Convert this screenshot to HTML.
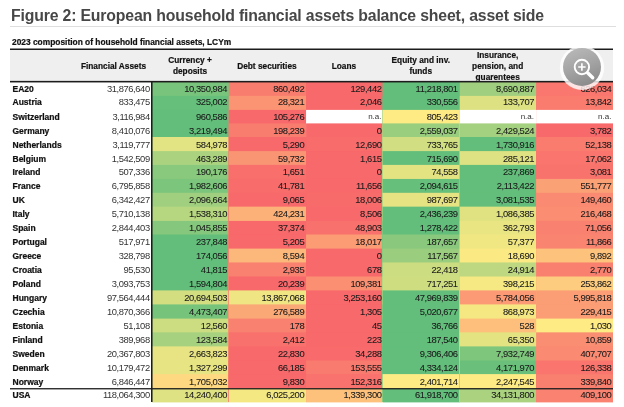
<!DOCTYPE html>
<html><head><meta charset="utf-8"><title>Figure 2</title>
<style>
html,body{margin:0;padding:0;background:#fff;}
body{width:624px;height:407px;position:relative;overflow:hidden;will-change:transform;font-family:"Liberation Sans",sans-serif;color:#111;}
.a{position:absolute;}
.title{left:11px;top:6.6px;font-size:15.8px;font-weight:bold;color:#474747;white-space:nowrap;letter-spacing:-0.16px;line-height:18px;}
.sub{left:12px;top:37.3px;font-size:8.4px;-webkit-text-stroke:0.2px #111;font-weight:bold;white-space:nowrap;line-height:10px;color:#111;}
.h{-webkit-text-stroke:0.2px #111;font-size:8.3px;font-weight:bold;text-align:center;line-height:11.15px;color:#111;display:flex;align-items:center;justify-content:center;}
.c{font-size:9.4px;letter-spacing:-0.42px;line-height:15.6px;height:13.95px;text-align:right;white-space:nowrap;box-sizing:border-box;padding-right:1.6px;color:#1a1a1a;-webkit-text-stroke:0.08px #1a1a1a;}
.u{line-height:13.6px;}
.na{font-size:8px;letter-spacing:0;color:#333;line-height:16.8px;-webkit-text-stroke:0;}
.n{-webkit-text-stroke:0.22px #111;font-size:8.5px;font-weight:bold;line-height:15.5px;height:13.95px;white-space:nowrap;color:#111;}
</style></head><body>
<div class="a title">Figure 2: European household financial assets balance sheet, asset side</div>
<div class="a" style="left:10px;top:26px;width:606px;height:1px;background:#dedede"></div>
<div class="a sub">2023 composition of household financial assets, LCYm</div>
<div class="a" style="left:10.3px;top:50px;width:602.7px;height:31px;background:#efefef"></div>
<div class="a" style="left:10.3px;top:48px;width:602.7px;height:1px;background:rgba(28,28,28,0.5)"></div>
<div class="a" style="left:10.3px;top:49px;width:602.7px;height:1px;background:#1c1c1c"></div>
<div class="a h" style="left:76px;top:51.2px;width:75px;height:30.5px">Financial Assets</div>
<div class="a h" style="left:152px;top:51.0px;width:76.0px;height:30.5px">Currency +<br>deposits</div>
<div class="a h" style="left:228px;top:51.2px;width:77.8px;height:30.5px">Debt securities</div>
<div class="a h" style="left:305.8px;top:51.2px;width:76.2px;height:30.5px">Loans</div>
<div class="a h" style="left:382px;top:51.0px;width:77.5px;height:30.5px">Equity and inv.<br>funds</div>
<div class="a h" style="left:459.5px;top:51.2px;width:76.3px;height:30.5px">Insurance,<br>pension, and<br>guarentees</div>
<svg class="a" style="left:0;top:0" width="613" height="402" viewBox="0 0 613 402"><rect x="152.0" y="81.0" width="461.10" height="321.20" fill="#78c47c"/><rect x="152.0" y="95.9" width="461.10" height="306.30" fill="#66bf7b"/><rect x="152.0" y="109.9" width="461.10" height="292.30" fill="#63be7b"/><rect x="152.0" y="123.4" width="461.10" height="278.80" fill="#63be7b"/><rect x="152.0" y="137.0" width="461.10" height="265.20" fill="#e2e382"/><rect x="152.0" y="151.1" width="461.10" height="251.10" fill="#abd37f"/><rect x="152.0" y="164.9" width="461.10" height="237.30" fill="#88c97d"/><rect x="152.0" y="178.95" width="461.10" height="223.25" fill="#7bc57c"/><rect x="152.0" y="192.8" width="461.10" height="209.40" fill="#a0d07f"/><rect x="152.0" y="206.65" width="461.10" height="195.55" fill="#b6d680"/><rect x="152.0" y="220.9" width="461.10" height="181.30" fill="#85c87d"/><rect x="152.0" y="234.5" width="461.10" height="167.70" fill="#63be7b"/><rect x="152.0" y="248.6" width="461.10" height="153.60" fill="#63be7b"/><rect x="152.0" y="262.45" width="461.10" height="139.75" fill="#63be7b"/><rect x="152.0" y="276.5" width="461.10" height="125.70" fill="#63be7b"/><rect x="152.0" y="290.4" width="461.10" height="111.80" fill="#d3de81"/><rect x="152.0" y="304.4" width="461.10" height="97.80" fill="#76c47c"/><rect x="152.0" y="318.6" width="461.10" height="83.60" fill="#ccdc81"/><rect x="152.0" y="332.35" width="461.10" height="69.85" fill="#a6d17f"/><rect x="152.0" y="346.4" width="461.10" height="55.80" fill="#e8e483"/><rect x="152.0" y="360.5" width="461.10" height="41.70" fill="#e6e483"/><rect x="152.0" y="374.1" width="461.10" height="28.10" fill="#fed981"/><rect x="152.0" y="388.4" width="461.10" height="13.80" fill="#dfe282"/><rect x="228.8" y="81.0" width="384.30" height="321.20" fill="#f97d6f"/><rect x="228.8" y="95.9" width="384.30" height="306.30" fill="#fa9473"/><rect x="228.8" y="109.9" width="384.30" height="292.30" fill="#f8696b"/><rect x="228.8" y="123.4" width="384.30" height="278.80" fill="#f97d6f"/><rect x="228.8" y="137.0" width="384.30" height="265.20" fill="#f8696b"/><rect x="228.8" y="151.1" width="384.30" height="251.10" fill="#fa9574"/><rect x="228.8" y="164.9" width="384.30" height="237.30" fill="#f86f6c"/><rect x="228.8" y="178.95" width="384.30" height="223.25" fill="#f86c6c"/><rect x="228.8" y="192.8" width="384.30" height="209.40" fill="#f8696b"/><rect x="228.8" y="206.65" width="384.30" height="195.55" fill="#fcb179"/><rect x="228.8" y="220.9" width="384.30" height="181.30" fill="#f8696b"/><rect x="228.8" y="234.5" width="384.30" height="167.70" fill="#f8696b"/><rect x="228.8" y="248.6" width="384.30" height="153.60" fill="#fcb77a"/><rect x="228.8" y="262.45" width="384.30" height="139.75" fill="#f98170"/><rect x="228.8" y="276.5" width="384.30" height="125.70" fill="#f8696b"/><rect x="228.8" y="290.4" width="384.30" height="111.80" fill="#efe683"/><rect x="228.8" y="304.4" width="384.30" height="97.80" fill="#fba877"/><rect x="228.8" y="318.6" width="384.30" height="83.60" fill="#f98170"/><rect x="228.8" y="332.35" width="384.30" height="69.85" fill="#f8716c"/><rect x="228.8" y="346.4" width="384.30" height="55.80" fill="#f8696b"/><rect x="228.8" y="360.5" width="384.30" height="41.70" fill="#f8696b"/><rect x="228.8" y="374.1" width="384.30" height="28.10" fill="#f8696b"/><rect x="228.8" y="388.4" width="384.30" height="13.80" fill="#f4e883"/><rect x="306.05" y="81.0" width="307.05" height="321.20" fill="#f8696b"/><rect x="306.05" y="95.9" width="307.05" height="306.30" fill="#f8696b"/><rect x="306.05" y="109.9" width="307.05" height="292.30" fill="#ffffff"/><rect x="306.05" y="123.4" width="307.05" height="278.80" fill="#f8696b"/><rect x="306.05" y="137.0" width="307.05" height="265.20" fill="#f86c6c"/><rect x="306.05" y="151.1" width="307.05" height="251.10" fill="#f8696b"/><rect x="306.05" y="164.9" width="307.05" height="237.30" fill="#f8696b"/><rect x="306.05" y="178.95" width="307.05" height="223.25" fill="#f8696b"/><rect x="306.05" y="192.8" width="307.05" height="209.40" fill="#f86b6b"/><rect x="306.05" y="206.65" width="307.05" height="195.55" fill="#f8696b"/><rect x="306.05" y="220.9" width="307.05" height="181.30" fill="#f8716d"/><rect x="306.05" y="234.5" width="307.05" height="167.70" fill="#fb9c75"/><rect x="306.05" y="248.6" width="307.05" height="153.60" fill="#f8696b"/><rect x="306.05" y="262.45" width="307.05" height="139.75" fill="#f8696b"/><rect x="306.05" y="276.5" width="307.05" height="125.70" fill="#fa8f72"/><rect x="306.05" y="290.4" width="307.05" height="111.80" fill="#f8696b"/><rect x="306.05" y="304.4" width="307.05" height="97.80" fill="#f8696b"/><rect x="306.05" y="318.6" width="307.05" height="83.60" fill="#f8696b"/><rect x="306.05" y="332.35" width="307.05" height="69.85" fill="#f8696b"/><rect x="306.05" y="346.4" width="307.05" height="55.80" fill="#f86a6b"/><rect x="306.05" y="360.5" width="307.05" height="41.70" fill="#f97a6e"/><rect x="306.05" y="374.1" width="307.05" height="28.10" fill="#f9726d"/><rect x="306.05" y="388.4" width="307.05" height="13.80" fill="#fdc17c"/><rect x="382.55" y="81.0" width="230.55" height="321.20" fill="#63be7b"/><rect x="382.55" y="95.9" width="230.55" height="306.30" fill="#63be7b"/><rect x="382.55" y="109.9" width="230.55" height="292.30" fill="#ffeb84"/><rect x="382.55" y="123.4" width="230.55" height="278.80" fill="#99ce7e"/><rect x="382.55" y="137.0" width="230.55" height="265.20" fill="#d1de81"/><rect x="382.55" y="151.1" width="230.55" height="251.10" fill="#63be7b"/><rect x="382.55" y="164.9" width="230.55" height="237.30" fill="#e3e382"/><rect x="382.55" y="178.95" width="230.55" height="223.25" fill="#66bf7b"/><rect x="382.55" y="192.8" width="230.55" height="209.40" fill="#e5e382"/><rect x="382.55" y="206.65" width="230.55" height="195.55" fill="#63be7b"/><rect x="382.55" y="220.9" width="230.55" height="181.30" fill="#63be7b"/><rect x="382.55" y="234.5" width="230.55" height="167.70" fill="#8ac97d"/><rect x="382.55" y="248.6" width="230.55" height="153.60" fill="#9ace7e"/><rect x="382.55" y="262.45" width="230.55" height="139.75" fill="#cbdc81"/><rect x="382.55" y="276.5" width="230.55" height="125.70" fill="#cfdd81"/><rect x="382.55" y="290.4" width="230.55" height="111.80" fill="#63be7b"/><rect x="382.55" y="304.4" width="230.55" height="97.80" fill="#63be7b"/><rect x="382.55" y="318.6" width="230.55" height="83.60" fill="#63be7b"/><rect x="382.55" y="332.35" width="230.55" height="69.85" fill="#63be7b"/><rect x="382.55" y="346.4" width="230.55" height="55.80" fill="#63be7b"/><rect x="382.55" y="360.5" width="230.55" height="41.70" fill="#63be7b"/><rect x="382.55" y="374.1" width="230.55" height="28.10" fill="#feeb84"/><rect x="382.55" y="388.4" width="230.55" height="13.80" fill="#63be7b"/><rect x="459.8" y="81.0" width="153.30" height="321.20" fill="#a0d07f"/><rect x="459.8" y="95.9" width="153.30" height="306.30" fill="#dee182"/><rect x="459.8" y="109.9" width="153.30" height="292.30" fill="#ffffff"/><rect x="459.8" y="123.4" width="153.30" height="278.80" fill="#a4d17f"/><rect x="459.8" y="137.0" width="153.30" height="265.20" fill="#63be7b"/><rect x="459.8" y="151.1" width="153.30" height="251.10" fill="#dfe282"/><rect x="459.8" y="164.9" width="153.30" height="237.30" fill="#63be7b"/><rect x="459.8" y="178.95" width="153.30" height="223.25" fill="#63be7b"/><rect x="459.8" y="192.8" width="153.30" height="209.40" fill="#63be7b"/><rect x="459.8" y="206.65" width="153.30" height="195.55" fill="#e0e282"/><rect x="459.8" y="220.9" width="153.30" height="181.30" fill="#eae583"/><rect x="459.8" y="234.5" width="153.30" height="167.70" fill="#f0e783"/><rect x="459.8" y="248.6" width="153.30" height="153.60" fill="#fbea84"/><rect x="459.8" y="262.45" width="153.30" height="139.75" fill="#bdd880"/><rect x="459.8" y="276.5" width="153.30" height="125.70" fill="#f6e883"/><rect x="459.8" y="290.4" width="153.30" height="111.80" fill="#fb9a74"/><rect x="459.8" y="304.4" width="153.30" height="97.80" fill="#f5e883"/><rect x="459.8" y="318.6" width="153.30" height="83.60" fill="#fdbf7b"/><rect x="459.8" y="332.35" width="153.30" height="69.85" fill="#e3e382"/><rect x="459.8" y="346.4" width="153.30" height="55.80" fill="#7fc67d"/><rect x="459.8" y="360.5" width="153.30" height="41.70" fill="#6ac07b"/><rect x="459.8" y="374.1" width="153.30" height="28.10" fill="#feeb84"/><rect x="459.8" y="388.4" width="153.30" height="13.80" fill="#abd37f"/><rect x="536.1" y="81.0" width="77.00" height="321.20" fill="#f9776e"/><rect x="536.1" y="95.9" width="77.00" height="306.30" fill="#f97c6f"/><rect x="536.1" y="109.9" width="77.00" height="292.30" fill="#ffffff"/><rect x="536.1" y="123.4" width="77.00" height="278.80" fill="#f8696b"/><rect x="536.1" y="137.0" width="77.00" height="265.20" fill="#f97c6f"/><rect x="536.1" y="151.1" width="77.00" height="251.10" fill="#f9756d"/><rect x="536.1" y="164.9" width="77.00" height="237.30" fill="#f9736d"/><rect x="536.1" y="178.95" width="77.00" height="223.25" fill="#fba176"/><rect x="536.1" y="192.8" width="77.00" height="209.40" fill="#fa8a71"/><rect x="536.1" y="206.65" width="77.00" height="195.55" fill="#fa8d72"/><rect x="536.1" y="220.9" width="77.00" height="181.30" fill="#f98170"/><rect x="536.1" y="234.5" width="77.00" height="167.70" fill="#f98470"/><rect x="536.1" y="248.6" width="77.00" height="153.60" fill="#fdc37c"/><rect x="536.1" y="262.45" width="77.00" height="139.75" fill="#f9806f"/><rect x="536.1" y="276.5" width="77.00" height="125.70" fill="#fdcc7e"/><rect x="536.1" y="290.4" width="77.00" height="111.80" fill="#fb9e75"/><rect x="536.1" y="304.4" width="77.00" height="97.80" fill="#fb9d75"/><rect x="536.1" y="318.6" width="77.00" height="83.60" fill="#feeb84"/><rect x="536.1" y="332.35" width="77.00" height="69.85" fill="#fa8e72"/><rect x="536.1" y="346.4" width="77.00" height="55.80" fill="#fa8a71"/><rect x="536.1" y="360.5" width="77.00" height="41.70" fill="#f9756d"/><rect x="536.1" y="374.1" width="77.00" height="28.10" fill="#f97f6f"/><rect x="536.1" y="388.4" width="77.00" height="13.80" fill="#f98370"/></svg>
<div class="a n" style="left:12.5px;top:82px">EA20</div><div class="a c u" style="left:76px;top:82px;width:75.3px;padding-right:1.6px;color:#333;-webkit-text-stroke:0">31,876,640</div><div class="a c u" style="left:152px;top:82px;height:13px;width:76.0px;padding-right:1.0px">10,350,984</div><div class="a c u" style="left:228px;top:82px;height:13px;width:77.8px;padding-right:1.6px">860,492</div><div class="a c u" style="left:305.8px;top:82px;height:13px;width:76.2px;padding-right:0.5px">129,442</div><div class="a c u" style="left:382px;top:82px;height:13px;width:77.5px;padding-right:1.9px">11,218,801</div><div class="a c u" style="left:459.5px;top:82px;height:13px;width:76.3px;padding-right:1.8px">8,690,887</div><div class="a c u" style="left:535.8px;top:82px;height:13px;width:77.2px;padding-right:1.6px">626,034</div>
<div class="a n" style="left:12.5px;top:95px">Austria</div><div class="a c u" style="left:76px;top:95px;width:75.3px;padding-right:1.6px;color:#333;-webkit-text-stroke:0">833,475</div><div class="a c u" style="left:152px;top:95px;height:14px;width:76.0px;padding-right:1.0px">325,002</div><div class="a c u" style="left:228px;top:95px;height:14px;width:77.8px;padding-right:1.6px">28,321</div><div class="a c u" style="left:305.8px;top:95px;height:14px;width:76.2px;padding-right:0.5px">2,046</div><div class="a c u" style="left:382px;top:95px;height:14px;width:77.5px;padding-right:1.9px">330,556</div><div class="a c u" style="left:459.5px;top:95px;height:14px;width:76.3px;padding-right:1.8px">133,707</div><div class="a c u" style="left:535.8px;top:95px;height:14px;width:77.2px;padding-right:1.6px">13,842</div>
<div class="a n" style="left:12.5px;top:110px">Switzerland</div><div class="a c" style="left:76px;top:109px;width:75.3px;padding-right:1.6px;color:#333;-webkit-text-stroke:0">3,116,984</div><div class="a c" style="left:152px;top:109px;height:14px;width:76.0px;padding-right:1.0px">960,586</div><div class="a c" style="left:228px;top:109px;height:14px;width:77.8px;padding-right:1.6px">105,276</div><div class="a c na" style="left:305.8px;top:109px;height:14px;width:76.2px;padding-right:0.5px">n.a.</div><div class="a c" style="left:382px;top:109px;height:14px;width:77.5px;padding-right:1.9px">805,423</div><div class="a c na" style="left:459.5px;top:109px;height:14px;width:76.3px;padding-right:1.8px">n.a.</div><div class="a c na" style="left:535.8px;top:109px;height:14px;width:77.2px;padding-right:1.6px">n.a.</div>
<div class="a n" style="left:12.5px;top:124px">Germany</div><div class="a c" style="left:76px;top:123px;width:75.3px;padding-right:1.6px;color:#333;-webkit-text-stroke:0">8,410,076</div><div class="a c" style="left:152px;top:123px;height:14px;width:76.0px;padding-right:1.0px">3,219,494</div><div class="a c" style="left:228px;top:123px;height:14px;width:77.8px;padding-right:1.6px">198,239</div><div class="a c" style="left:305.8px;top:123px;height:14px;width:76.2px;padding-right:0.5px">0</div><div class="a c" style="left:382px;top:123px;height:14px;width:77.5px;padding-right:1.9px">2,559,037</div><div class="a c" style="left:459.5px;top:123px;height:14px;width:76.3px;padding-right:1.8px">2,429,524</div><div class="a c" style="left:535.8px;top:123px;height:14px;width:77.2px;padding-right:1.6px">3,782</div>
<div class="a n" style="left:12.5px;top:138px">Netherlands</div><div class="a c" style="left:76px;top:137px;width:75.3px;padding-right:1.6px;color:#333;-webkit-text-stroke:0">3,119,777</div><div class="a c" style="left:152px;top:137px;height:14px;width:76.0px;padding-right:1.0px">584,978</div><div class="a c" style="left:228px;top:137px;height:14px;width:77.8px;padding-right:1.6px">5,290</div><div class="a c" style="left:305.8px;top:137px;height:14px;width:76.2px;padding-right:0.5px">12,690</div><div class="a c" style="left:382px;top:137px;height:14px;width:77.5px;padding-right:1.9px">733,765</div><div class="a c" style="left:459.5px;top:137px;height:14px;width:76.3px;padding-right:1.8px">1,730,916</div><div class="a c" style="left:535.8px;top:137px;height:14px;width:77.2px;padding-right:1.6px">52,138</div>
<div class="a n" style="left:12.5px;top:152px">Belgium</div><div class="a c" style="left:76px;top:151px;width:75.3px;padding-right:1.6px;color:#333;-webkit-text-stroke:0">1,542,509</div><div class="a c" style="left:152px;top:151px;height:14px;width:76.0px;padding-right:1.0px">463,289</div><div class="a c" style="left:228px;top:151px;height:14px;width:77.8px;padding-right:1.6px">59,732</div><div class="a c" style="left:305.8px;top:151px;height:14px;width:76.2px;padding-right:0.5px">1,615</div><div class="a c" style="left:382px;top:151px;height:14px;width:77.5px;padding-right:1.9px">715,690</div><div class="a c" style="left:459.5px;top:151px;height:14px;width:76.3px;padding-right:1.8px">285,121</div><div class="a c" style="left:535.8px;top:151px;height:14px;width:77.2px;padding-right:1.6px">17,062</div>
<div class="a n" style="left:12.5px;top:165px">Ireland</div><div class="a c u" style="left:76px;top:165px;width:75.3px;padding-right:1.6px;color:#333;-webkit-text-stroke:0">507,336</div><div class="a c u" style="left:152px;top:165px;height:14px;width:76.0px;padding-right:1.0px">190,176</div><div class="a c u" style="left:228px;top:165px;height:14px;width:77.8px;padding-right:1.6px">1,651</div><div class="a c u" style="left:305.8px;top:165px;height:14px;width:76.2px;padding-right:0.5px">0</div><div class="a c u" style="left:382px;top:165px;height:14px;width:77.5px;padding-right:1.9px">74,558</div><div class="a c u" style="left:459.5px;top:165px;height:14px;width:76.3px;padding-right:1.8px">237,869</div><div class="a c u" style="left:535.8px;top:165px;height:14px;width:77.2px;padding-right:1.6px">3,081</div>
<div class="a n" style="left:12.5px;top:179px">France</div><div class="a c u" style="left:76px;top:179px;width:75.3px;padding-right:1.6px;color:#333;-webkit-text-stroke:0">6,795,858</div><div class="a c u" style="left:152px;top:179px;height:14px;width:76.0px;padding-right:1.0px">1,982,606</div><div class="a c u" style="left:228px;top:179px;height:14px;width:77.8px;padding-right:1.6px">41,781</div><div class="a c u" style="left:305.8px;top:179px;height:14px;width:76.2px;padding-right:0.5px">11,656</div><div class="a c u" style="left:382px;top:179px;height:14px;width:77.5px;padding-right:1.9px">2,094,615</div><div class="a c u" style="left:459.5px;top:179px;height:14px;width:76.3px;padding-right:1.8px">2,113,422</div><div class="a c u" style="left:535.8px;top:179px;height:14px;width:77.2px;padding-right:1.6px">551,777</div>
<div class="a n" style="left:12.5px;top:193px">UK</div><div class="a c u" style="left:76px;top:193px;width:75.3px;padding-right:1.6px;color:#333;-webkit-text-stroke:0">6,342,427</div><div class="a c u" style="left:152px;top:193px;height:14px;width:76.0px;padding-right:1.0px">2,096,664</div><div class="a c u" style="left:228px;top:193px;height:14px;width:77.8px;padding-right:1.6px">9,065</div><div class="a c u" style="left:305.8px;top:193px;height:14px;width:76.2px;padding-right:0.5px">18,006</div><div class="a c u" style="left:382px;top:193px;height:14px;width:77.5px;padding-right:1.9px">987,697</div><div class="a c u" style="left:459.5px;top:193px;height:14px;width:76.3px;padding-right:1.8px">3,081,535</div><div class="a c u" style="left:535.8px;top:193px;height:14px;width:77.2px;padding-right:1.6px">149,460</div>
<div class="a n" style="left:12.5px;top:207px">Italy</div><div class="a c u" style="left:76px;top:207px;width:75.3px;padding-right:1.6px;color:#333;-webkit-text-stroke:0">5,710,138</div><div class="a c u" style="left:152px;top:207px;height:14px;width:76.0px;padding-right:1.0px">1,538,310</div><div class="a c u" style="left:228px;top:207px;height:14px;width:77.8px;padding-right:1.6px">424,231</div><div class="a c u" style="left:305.8px;top:207px;height:14px;width:76.2px;padding-right:0.5px">8,506</div><div class="a c u" style="left:382px;top:207px;height:14px;width:77.5px;padding-right:1.9px">2,436,239</div><div class="a c u" style="left:459.5px;top:207px;height:14px;width:76.3px;padding-right:1.8px">1,086,385</div><div class="a c u" style="left:535.8px;top:207px;height:14px;width:77.2px;padding-right:1.6px">216,468</div>
<div class="a n" style="left:12.5px;top:221px">Spain</div><div class="a c u" style="left:76px;top:221px;width:75.3px;padding-right:1.6px;color:#333;-webkit-text-stroke:0">2,844,403</div><div class="a c u" style="left:152px;top:221px;height:14px;width:76.0px;padding-right:1.0px">1,045,855</div><div class="a c u" style="left:228px;top:221px;height:14px;width:77.8px;padding-right:1.6px">37,374</div><div class="a c u" style="left:305.8px;top:221px;height:14px;width:76.2px;padding-right:0.5px">48,903</div><div class="a c u" style="left:382px;top:221px;height:14px;width:77.5px;padding-right:1.9px">1,278,422</div><div class="a c u" style="left:459.5px;top:221px;height:14px;width:76.3px;padding-right:1.8px">362,793</div><div class="a c u" style="left:535.8px;top:221px;height:14px;width:77.2px;padding-right:1.6px">71,056</div>
<div class="a n" style="left:12.5px;top:235px">Portugal</div><div class="a c u" style="left:76px;top:235px;width:75.3px;padding-right:1.6px;color:#333;-webkit-text-stroke:0">517,971</div><div class="a c u" style="left:152px;top:235px;height:14px;width:76.0px;padding-right:1.0px">237,848</div><div class="a c u" style="left:228px;top:235px;height:14px;width:77.8px;padding-right:1.6px">5,205</div><div class="a c u" style="left:305.8px;top:235px;height:14px;width:76.2px;padding-right:0.5px">18,017</div><div class="a c u" style="left:382px;top:235px;height:14px;width:77.5px;padding-right:1.9px">187,657</div><div class="a c u" style="left:459.5px;top:235px;height:14px;width:76.3px;padding-right:1.8px">57,377</div><div class="a c u" style="left:535.8px;top:235px;height:14px;width:77.2px;padding-right:1.6px">11,866</div>
<div class="a n" style="left:12.5px;top:249px">Greece</div><div class="a c u" style="left:76px;top:249px;width:75.3px;padding-right:1.6px;color:#333;-webkit-text-stroke:0">328,798</div><div class="a c u" style="left:152px;top:249px;height:14px;width:76.0px;padding-right:1.0px">174,056</div><div class="a c u" style="left:228px;top:249px;height:14px;width:77.8px;padding-right:1.6px">8,594</div><div class="a c u" style="left:305.8px;top:249px;height:14px;width:76.2px;padding-right:0.5px">0</div><div class="a c u" style="left:382px;top:249px;height:14px;width:77.5px;padding-right:1.9px">117,567</div><div class="a c u" style="left:459.5px;top:249px;height:14px;width:76.3px;padding-right:1.8px">18,690</div><div class="a c u" style="left:535.8px;top:249px;height:14px;width:77.2px;padding-right:1.6px">9,892</div>
<div class="a n" style="left:12.5px;top:263px">Croatia</div><div class="a c u" style="left:76px;top:263px;width:75.3px;padding-right:1.6px;color:#333;-webkit-text-stroke:0">95,530</div><div class="a c u" style="left:152px;top:263px;height:14px;width:76.0px;padding-right:1.0px">41,815</div><div class="a c u" style="left:228px;top:263px;height:14px;width:77.8px;padding-right:1.6px">2,935</div><div class="a c u" style="left:305.8px;top:263px;height:14px;width:76.2px;padding-right:0.5px">678</div><div class="a c u" style="left:382px;top:263px;height:14px;width:77.5px;padding-right:1.9px">22,418</div><div class="a c u" style="left:459.5px;top:263px;height:14px;width:76.3px;padding-right:1.8px">24,914</div><div class="a c u" style="left:535.8px;top:263px;height:14px;width:77.2px;padding-right:1.6px">2,770</div>
<div class="a n" style="left:12.5px;top:277px">Poland</div><div class="a c u" style="left:76px;top:277px;width:75.3px;padding-right:1.6px;color:#333;-webkit-text-stroke:0">3,093,753</div><div class="a c u" style="left:152px;top:277px;height:14px;width:76.0px;padding-right:1.0px">1,594,804</div><div class="a c u" style="left:228px;top:277px;height:14px;width:77.8px;padding-right:1.6px">20,239</div><div class="a c u" style="left:305.8px;top:277px;height:14px;width:76.2px;padding-right:0.5px">109,381</div><div class="a c u" style="left:382px;top:277px;height:14px;width:77.5px;padding-right:1.9px">717,251</div><div class="a c u" style="left:459.5px;top:277px;height:14px;width:76.3px;padding-right:1.8px">398,215</div><div class="a c u" style="left:535.8px;top:277px;height:14px;width:77.2px;padding-right:1.6px">253,862</div>
<div class="a n" style="left:12.5px;top:291px">Hungary</div><div class="a c u" style="left:76px;top:291px;width:75.3px;padding-right:1.6px;color:#333;-webkit-text-stroke:0">97,564,444</div><div class="a c u" style="left:152px;top:291px;height:14px;width:76.0px;padding-right:1.0px">20,694,503</div><div class="a c u" style="left:228px;top:291px;height:14px;width:77.8px;padding-right:1.6px">13,867,068</div><div class="a c u" style="left:305.8px;top:291px;height:14px;width:76.2px;padding-right:0.5px">3,253,160</div><div class="a c u" style="left:382px;top:291px;height:14px;width:77.5px;padding-right:1.9px">47,969,839</div><div class="a c u" style="left:459.5px;top:291px;height:14px;width:76.3px;padding-right:1.8px">5,784,056</div><div class="a c u" style="left:535.8px;top:291px;height:14px;width:77.2px;padding-right:1.6px">5,995,818</div>
<div class="a n" style="left:12.5px;top:305px">Czechia</div><div class="a c u" style="left:76px;top:305px;width:75.3px;padding-right:1.6px;color:#333;-webkit-text-stroke:0">10,870,366</div><div class="a c u" style="left:152px;top:305px;height:14px;width:76.0px;padding-right:1.0px">4,473,407</div><div class="a c u" style="left:228px;top:305px;height:14px;width:77.8px;padding-right:1.6px">276,589</div><div class="a c u" style="left:305.8px;top:305px;height:14px;width:76.2px;padding-right:0.5px">1,305</div><div class="a c u" style="left:382px;top:305px;height:14px;width:77.5px;padding-right:1.9px">5,020,677</div><div class="a c u" style="left:459.5px;top:305px;height:14px;width:76.3px;padding-right:1.8px">868,973</div><div class="a c u" style="left:535.8px;top:305px;height:14px;width:77.2px;padding-right:1.6px">229,415</div>
<div class="a n" style="left:12.5px;top:319px">Estonia</div><div class="a c u" style="left:76px;top:319px;width:75.3px;padding-right:1.6px;color:#333;-webkit-text-stroke:0">51,108</div><div class="a c u" style="left:152px;top:319px;height:14px;width:76.0px;padding-right:1.0px">12,560</div><div class="a c u" style="left:228px;top:319px;height:14px;width:77.8px;padding-right:1.6px">178</div><div class="a c u" style="left:305.8px;top:319px;height:14px;width:76.2px;padding-right:0.5px">45</div><div class="a c u" style="left:382px;top:319px;height:14px;width:77.5px;padding-right:1.9px">36,766</div><div class="a c u" style="left:459.5px;top:319px;height:14px;width:76.3px;padding-right:1.8px">528</div><div class="a c u" style="left:535.8px;top:319px;height:14px;width:77.2px;padding-right:1.6px">1,030</div>
<div class="a n" style="left:12.5px;top:333px">Finland</div><div class="a c u" style="left:76px;top:333px;width:75.3px;padding-right:1.6px;color:#333;-webkit-text-stroke:0">389,968</div><div class="a c u" style="left:152px;top:333px;height:14px;width:76.0px;padding-right:1.0px">123,584</div><div class="a c u" style="left:228px;top:333px;height:14px;width:77.8px;padding-right:1.6px">2,412</div><div class="a c u" style="left:305.8px;top:333px;height:14px;width:76.2px;padding-right:0.5px">223</div><div class="a c u" style="left:382px;top:333px;height:14px;width:77.5px;padding-right:1.9px">187,540</div><div class="a c u" style="left:459.5px;top:333px;height:14px;width:76.3px;padding-right:1.8px">65,350</div><div class="a c u" style="left:535.8px;top:333px;height:14px;width:77.2px;padding-right:1.6px">10,859</div>
<div class="a n" style="left:12.5px;top:347px">Sweden</div><div class="a c u" style="left:76px;top:347px;width:75.3px;padding-right:1.6px;color:#333;-webkit-text-stroke:0">20,367,803</div><div class="a c u" style="left:152px;top:347px;height:13px;width:76.0px;padding-right:1.0px">2,663,823</div><div class="a c u" style="left:228px;top:347px;height:13px;width:77.8px;padding-right:1.6px">22,830</div><div class="a c u" style="left:305.8px;top:347px;height:13px;width:76.2px;padding-right:0.5px">34,288</div><div class="a c u" style="left:382px;top:347px;height:13px;width:77.5px;padding-right:1.9px">9,306,406</div><div class="a c u" style="left:459.5px;top:347px;height:13px;width:76.3px;padding-right:1.8px">7,932,749</div><div class="a c u" style="left:535.8px;top:347px;height:13px;width:77.2px;padding-right:1.6px">407,707</div>
<div class="a n" style="left:12.5px;top:361px">Denmark</div><div class="a c" style="left:76px;top:360px;width:75.3px;padding-right:1.6px;color:#333;-webkit-text-stroke:0">10,179,472</div><div class="a c" style="left:152px;top:360px;height:14px;width:76.0px;padding-right:1.0px">1,327,299</div><div class="a c" style="left:228px;top:360px;height:14px;width:77.8px;padding-right:1.6px">66,185</div><div class="a c" style="left:305.8px;top:360px;height:14px;width:76.2px;padding-right:0.5px">153,555</div><div class="a c" style="left:382px;top:360px;height:14px;width:77.5px;padding-right:1.9px">4,334,124</div><div class="a c" style="left:459.5px;top:360px;height:14px;width:76.3px;padding-right:1.8px">4,171,970</div><div class="a c" style="left:535.8px;top:360px;height:14px;width:77.2px;padding-right:1.6px">126,338</div>
<div class="a n" style="left:12.5px;top:375px">Norway</div><div class="a c" style="left:76px;top:374px;width:75.3px;padding-right:1.6px;color:#333;-webkit-text-stroke:0">6,846,447</div><div class="a c" style="left:152px;top:374px;height:14px;width:76.0px;padding-right:1.0px">1,705,032</div><div class="a c" style="left:228px;top:374px;height:14px;width:77.8px;padding-right:1.6px">9,830</div><div class="a c" style="left:305.8px;top:374px;height:14px;width:76.2px;padding-right:0.5px">152,316</div><div class="a c" style="left:382px;top:374px;height:14px;width:77.5px;padding-right:1.9px">2,401,714</div><div class="a c" style="left:459.5px;top:374px;height:14px;width:76.3px;padding-right:1.8px">2,247,545</div><div class="a c" style="left:535.8px;top:374px;height:14px;width:77.2px;padding-right:1.6px">339,840</div>
<div class="a n" style="left:12.5px;top:388px">USA</div><div class="a c u" style="left:76px;top:388px;width:75.3px;padding-right:1.6px;color:#333;-webkit-text-stroke:0">118,064,300</div><div class="a c u" style="left:152px;top:388px;height:14px;width:76.0px;padding-right:1.0px">14,240,400</div><div class="a c u" style="left:228px;top:388px;height:14px;width:77.8px;padding-right:1.6px">6,025,200</div><div class="a c u" style="left:305.8px;top:388px;height:14px;width:76.2px;padding-right:0.5px">1,339,300</div><div class="a c u" style="left:382px;top:388px;height:14px;width:77.5px;padding-right:1.9px">61,918,700</div><div class="a c u" style="left:459.5px;top:388px;height:14px;width:76.3px;padding-right:1.8px">34,131,800</div><div class="a c u" style="left:535.8px;top:388px;height:14px;width:77.2px;padding-right:1.6px">409,100</div>
<div class="a" style="left:10.3px;top:80px;width:602.7px;height:1px;background:rgba(28,28,28,0.12)"></div>
<div class="a" style="left:10.3px;top:81px;width:602.7px;height:1px;background:#1c1c1c"></div>
<div class="a" style="left:10.3px;top:82px;width:602.7px;height:1px;background:rgba(28,28,28,0.45)"></div>
<div class="a" style="left:151px;top:81px;width:1px;height:321px;background:#1c1c1c"></div>
<div class="a" style="left:152px;top:81px;width:1px;height:321px;background:rgba(20,30,20,0.55)"></div>
<div class="a" style="left:10.3px;top:388px;width:602.7px;height:1px;background:rgba(28,28,28,0.9)"></div>
<div class="a" style="left:10.3px;top:389px;width:602.7px;height:1px;background:rgba(28,28,28,0.4)"></div>
<div class="a" style="left:152px;top:402px;width:77px;height:1px;background:#dfe282;opacity:0.4"></div><div class="a" style="left:229px;top:402px;width:77px;height:1px;background:#f4e883;opacity:0.4"></div><div class="a" style="left:306px;top:402px;width:77px;height:1px;background:#fdc17c;opacity:0.4"></div><div class="a" style="left:383px;top:402px;width:77px;height:1px;background:#63be7b;opacity:0.4"></div><div class="a" style="left:460px;top:402px;width:76px;height:1px;background:#abd37f;opacity:0.4"></div><div class="a" style="left:536px;top:402px;width:77px;height:1px;background:#f98370;opacity:0.4"></div>
<svg class="a" style="left:555.6px;top:41.1px" width="52" height="52" viewBox="0 0 52 52">
<defs><linearGradient id="g2" x1="0.2" y1="0" x2="0.6" y2="1"><stop offset="0" stop-color="#b9b9b9"/><stop offset="0.55" stop-color="#a2a2a2"/><stop offset="1" stop-color="#8b8b8b"/></linearGradient></defs>
<circle cx="26" cy="26.8" r="22.2" fill="#ffffff" fill-opacity="0.8"/>
<circle cx="26" cy="26" r="19" fill="url(#g2)"/>
<circle cx="25.9" cy="26" r="7.2" fill="none" stroke="#fff" stroke-width="1.9"/>
<path d="M22.2 26h7.4M25.9 22.3v7.4" stroke="#fff" stroke-width="1.6" fill="none"/>
<path d="M31.6 31.7l5.1 5.1" stroke="#fff" stroke-width="3.4" stroke-linecap="round"/>
</svg>
</body></html>
